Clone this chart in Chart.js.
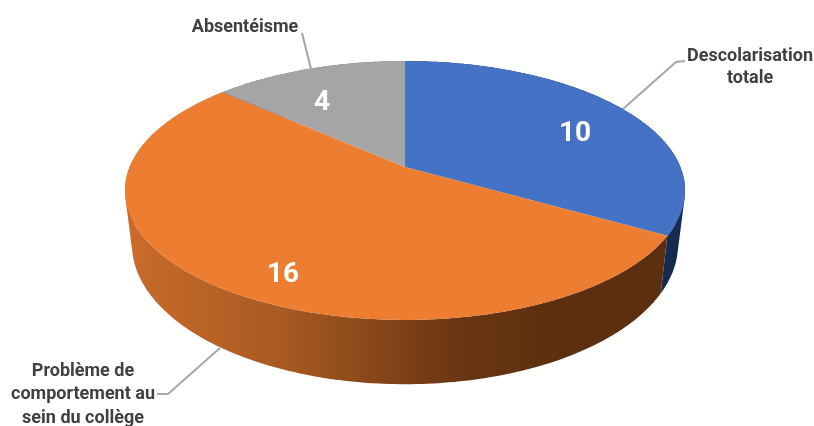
<!DOCTYPE html>
<html>
<head>
<meta charset="utf-8">
<title>Descolarisation</title>
<script src="https://cdn.jsdelivr.net/npm/chart.js@4"></script>
<style>
  html, body { margin: 0; background: #fff; }
  canvas { display: block; }
</style>
</head>
<body>
<canvas id="pie3d" width="814" height="426"></canvas>
<script>
const categories = ['Descolarisation totale', 'Problème de comportement au sein du collège', 'Absentéisme'];
const values = [10, 16, 4];
const topColors = ['#4472c4', '#ed7d31', '#a5a5a5'];
const sideColors = ['#182a50', null, '#63636e'];

// perspective of the pie (hub, radius, foreshortening), measured on the picture
const HUB = { x: 405, y: 167 };
const RX = 275.4, RY = 125.2, K = -0.1815;
const DEPTH = 52, BOTTOM_SX = 0.975, BOTTOM_SY = 1.08;

// unit circle -> top face
function topPoint(u, v) {
  const d = 1 + K * v;
  return { x: HUB.x + RX * u / d, y: HUB.y + RY * v / d };
}
function bottomPoint(u, v) {
  const p = topPoint(u, v);
  return {
    x: HUB.x + (p.x - HUB.x) * BOTTOM_SX,
    y: HUB.y + DEPTH + (p.y - HUB.y) * BOTTOM_SY
  };
}
function arcPoints(start, end, fn) {
  const pts = [];
  const steps = Math.max(2, Math.ceil((end - start) * 60));
  for (let i = 0; i <= steps; i++) {
    const a = start + (end - start) * i / steps;
    pts.push(fn(Math.cos(a), Math.sin(a)));
  }
  return pts;
}
function addPath(ctx, pts) {
  pts.forEach((p, i) => i ? ctx.lineTo(p.x, p.y) : ctx.moveTo(p.x, p.y));
  ctx.closePath();
}
// same winding for every quad, or nonzero fill cancels them where the wall folds
function signedArea(pts) {
  return pts.reduce((s, p, i) => {
    const n = pts[(i + 1) % pts.length];
    return s + p.x * n.y - n.x * p.y;
  }, 0);
}

const labelBlocks = [
  { lines: ['Descolarisation', 'totale'], x: 750, y: [56, 78] },
  { lines: ['Problème de', 'comportement au', 'sein du collège'], x: 83, y: [371, 394, 418] },
  { lines: ['Absentéisme'], x: 245, y: [27] }
];
const valueSpots = [{ x: 575, y: 134 }, { x: 283, y: 275 }, { x: 322, y: 103 }];
const leaders = [
  [[623, 109], [676, 62], [685, 61]],
  [[220, 348], [168, 394], [157, 394]],
  [[302, 33], [311, 69]]
];

const pie3d = {
  id: 'pie3d',
  beforeDatasetsDraw(chart) {
    const ctx = chart.ctx;
    const arcs = chart.getDatasetMeta(0).data;
    const orange = ctx.createLinearGradient(130, 0, 560, 0);
    orange.addColorStop(0, '#c96b2b');
    orange.addColorStop(0.35, '#a85a22');
    orange.addColorStop(0.75, '#6c3712');
    orange.addColorStop(1, '#5c2f10');

    ctx.save();
    // side wall first, quads in one path so the outline joins both faces, top face over it
    [2, 0, 1].forEach(i => {
      const top = arcPoints(arcs[i].startAngle, arcs[i].endAngle, topPoint);
      const bottom = arcPoints(arcs[i].startAngle, arcs[i].endAngle, bottomPoint);
      ctx.beginPath();
      for (let j = 0; j < top.length - 1; j++) {
        const quad = [top[j], top[j + 1], bottom[j + 1], bottom[j]];
        addPath(ctx, signedArea(quad) < 0 ? quad.reverse() : quad);
      }
      ctx.fillStyle = sideColors[i] || orange;
      ctx.fill();
    });
    arcs.forEach((arc, i) => {
      ctx.beginPath();
      addPath(ctx, [HUB].concat(arcPoints(arc.startAngle, arc.endAngle, topPoint)));
      ctx.fillStyle = topColors[i];
      ctx.fill();
    });

    // leader lines
    ctx.strokeStyle = '#a6a6a6';
    ctx.lineWidth = 2;
    leaders.forEach(line => {
      ctx.beginPath();
      line.forEach((p, i) => i ? ctx.lineTo(p[0], p[1]) : ctx.moveTo(p[0], p[1]));
      ctx.stroke();
    });

    // texts
    ctx.textAlign = 'center';
    ctx.textBaseline = 'middle';
    ctx.fillStyle = '#404040';
    ctx.font = 'bold 18px Roboto';
    labelBlocks.forEach(b => b.lines.forEach((t, j) => ctx.fillText(t, b.x, b.y[j])));
    ctx.fillStyle = '#ffffff';
    ctx.font = 'bold 28px Roboto';
    values.forEach((v, i) => ctx.fillText(String(v), valueSpots[i].x, valueSpots[i].y));
    ctx.restore();
    return false; // top face and wall are drawn above from the arc angles
  }
};

new Chart(document.getElementById('pie3d'), {
  type: 'pie',
  data: {
    labels: categories,
    datasets: [{ data: values, backgroundColor: topColors, borderWidth: 0 }]
  },
  options: {
    responsive: false,
    animation: false,
    plugins: { legend: { display: false }, tooltip: { enabled: false } }
  },
  plugins: [pie3d]
});
</script>
</body>
</html>
